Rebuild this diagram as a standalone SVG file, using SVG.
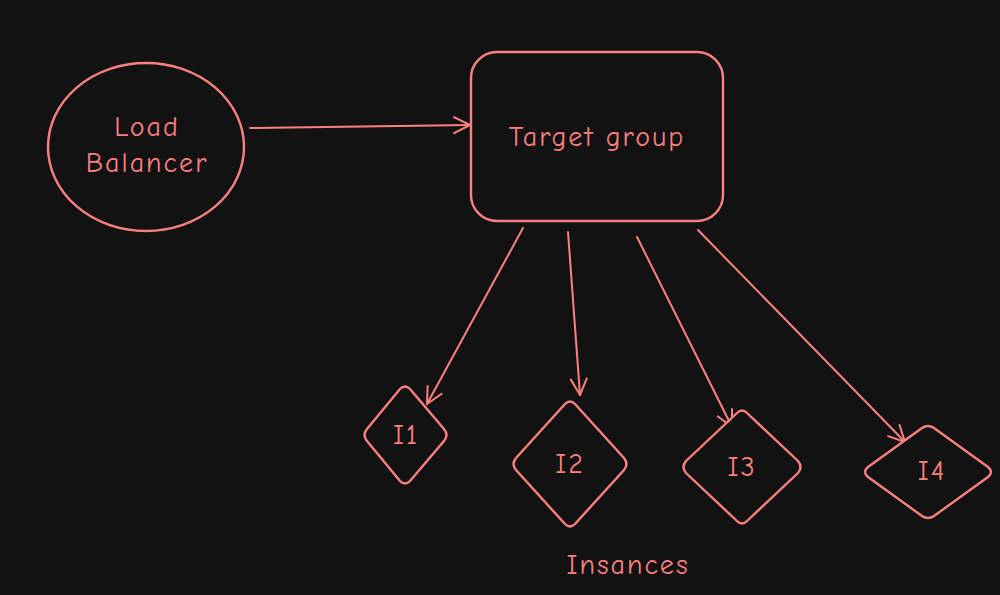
<svg xmlns="http://www.w3.org/2000/svg" width="1000" height="595" viewBox="0 0 1000 595">
  <defs>
    <style>
      .shape { fill: #121212; stroke: #ff8080; stroke-width: 2.4; stroke-linejoin: round; stroke-linecap: round; }
      .edge { fill: none; stroke: #ff8080; stroke-width: 2; stroke-linecap: round; }
      .label { fill: #ff8080; font-family: "Comic Neue", "Liberation Sans", "DejaVu Sans", sans-serif; font-size: 28px; letter-spacing: 2px; text-anchor: middle; dominant-baseline: central; }
    </style>
    <marker id="arrow" viewBox="0 0 20 20" refX="18" refY="10" markerWidth="20" markerHeight="20" markerUnits="userSpaceOnUse" orient="auto">
      <path d="M2,2 L18,10 L2,18" fill="none" stroke="#ff8080" stroke-width="2" stroke-linecap="round" stroke-linejoin="round"/>
    </marker>
  </defs>
  <rect width="1000" height="595" fill="#121212"/>

  <g id="connectors">
    <path class="edge" d="M250,128 L470,125" marker-end="url(#arrow)"/>
    <path class="edge" d="M523,228 L427,404" marker-end="url(#arrow)"/>
    <path class="edge" d="M568,232 L580,395" marker-end="url(#arrow)"/>
    <path class="edge" d="M637,237 L732,427" marker-end="url(#arrow)"/>
    <path class="edge" d="M698,230 L905,442" marker-end="url(#arrow)"/>
  </g>

  <g id="load-balancer">
    <ellipse class="shape" cx="146" cy="147" rx="98" ry="84"/>
    <text class="label" x="147" y="127">Load</text>
    <text class="label" x="147" y="163">Balancer</text>
  </g>

  <g id="target-group">
    <rect class="shape" x="471" y="52" width="252" height="169" rx="26" ry="26"/>
    <text class="label" x="597" y="137">Target group</text>
  </g>

  <g id="i1">
    <path class="shape" d="M400,389 Q405,384 410,389 L444,429 Q449,435 444,441 L410,481 Q405,486 400,481 L367,441 Q362,435 367,429 Z"/>
    <text class="label" x="406" y="435">I1</text>
  </g>

  <g id="i2">
    <path class="shape" d="M565,404 Q570,399 575,404 L624,458 Q629,464 624,470 L575,524 Q570,529 565,524 L516,470 Q511,464 516,458 Z"/>
    <text class="label" x="570" y="464">I2</text>
  </g>

  <g id="i3">
    <path class="shape" d="M737,413 Q742,408 747,413 L798,461 Q803,467 798,473 L747,521 Q742,526 737,521 L686,473 Q681,467 686,461 Z"/>
    <text class="label" x="742" y="467">I3</text>
  </g>

  <g id="i4">
    <path class="shape" d="M922,428 Q928,424 934,428 L988,467 Q994,472 988,477 L934,516 Q928,520 922,516 L868,477 Q862,472 868,467 Z"/>
    <text class="label" x="932" y="471">I4</text>
  </g>

  <g id="instances-label">
    <text class="label" x="628" y="565">Insances</text>
  </g>
</svg>
